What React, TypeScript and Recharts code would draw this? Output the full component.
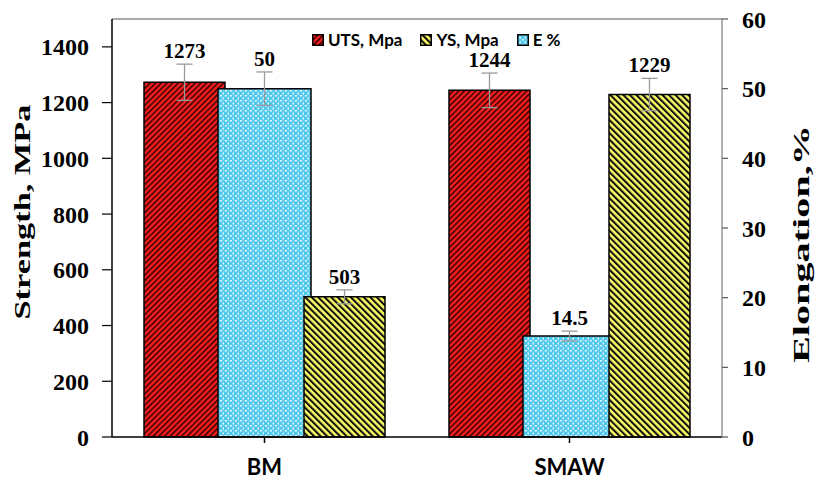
import { BarChart, Bar, XAxis, YAxis, ErrorBar, LabelList, ReferenceLine } from 'recharts';

const categories = ['BM', 'SMAW'];
const utsValues = [1273, 1244];
const utsErrors = [65, 62];
const elongationValues = [50, 14.5];
const elongationErrors = [2.4, 0.7];
const ysValues = [503, 1229];
const ysErrors = [25, 58];
const strengthTicks = [0, 200, 400, 600, 800, 1000, 1200, 1400];
const elongationTicks = [0, 10, 20, 30, 40, 50, 60];
const legendLabels = ['UTS, Mpa', 'YS, Mpa', 'E %'];
const legendFills = ['url(#utsHatch)', 'url(#ysHatch)', 'url(#elongDots)'];

const data = categories.map((name, i) => ({
  name,
  uts: utsValues[i],
  utsErr: utsErrors[i],
  elong: elongationValues[i],
  elongErr: elongationErrors[i],
  ys: ysValues[i],
  ysErr: ysErrors[i],
}));

const serif = "'Liberation Serif', 'Times New Roman', serif";
const sans = "Lato, 'Liberation Sans', sans-serif";

// value label sits just above the error bar cap
const valueLabel = (values: number[], errors: number[]) => (props: any) => {
  const box = props.viewBox && props.viewBox.width !== undefined ? props.viewBox : props;
  const { x, y, width, height } = box;
  const i = props.index;
  const v = values[i];
  const errPx = v ? (errors[i] * Math.abs(height)) / v : 0;
  return (
    <text
      x={x + width / 2}
      y={y - errPx - 6}
      textAnchor="middle"
      fontFamily={serif}
      fontWeight="bold"
      fontSize={21}
      fill="#000"
    >
      {v}
    </text>
  );
};

const axisTitle = (text: string, dx: number, dy: number, length: number) => (props: any) => {
  const { x, y, height } = props.viewBox;
  const cx = x + dx;
  const cy = y + height / 2 + dy;
  return (
    <text
      x={cx}
      y={cy}
      transform={`rotate(-90 ${cx} ${cy})`}
      textAnchor="middle"
      dominantBaseline="central"
      textLength={length}
      lengthAdjust="spacingAndGlyphs"
      fontFamily={serif}
      fontWeight="bold"
      fontSize={23}
      fill="#000"
    >
      {text}
    </text>
  );
};

const tickStyle = { fontFamily: serif, fontWeight: 'bold', fontSize: 24, fill: '#000' };

export default function App() {
  return (
    <div style={{ position: 'absolute', left: 0, top: 0, width: 822, height: 481, background: '#fff' }}>
      <BarChart
        width={822}
        height={481}
        data={data}
        margin={{ top: 19, right: 0, bottom: 0, left: 0 }}
        barGap={-7}
      >
        <defs>
          <pattern id="utsHatch" width="4" height="4" patternUnits="userSpaceOnUse" patternTransform="rotate(45)">
            <rect width="4" height="4" fill="#FF1E1E" />
            <rect width="1.5" height="4" fill="#2a0000" />
          </pattern>
          <pattern id="ysHatch" width="4.6" height="4.6" patternUnits="userSpaceOnUse" patternTransform="rotate(-45)">
            <rect width="4.6" height="4.6" fill="#FFFF66" />
            <rect width="2.1" height="4.6" fill="#111" />
          </pattern>
          <pattern id="elongDots" width="5" height="5" patternUnits="userSpaceOnUse">
            <rect width="5" height="5" fill="#4EC7EC" />
            <rect x="0" y="0" width="2" height="1.5" fill="#E2F7FF" />
            <rect x="2.5" y="2.5" width="1.5" height="2" fill="#E2F7FF" />
            <rect x="3.5" y="0.5" width="1" height="1" fill="#A8E6FA" />
          </pattern>
        </defs>
        <XAxis
          dataKey="name"
          height={44}
          tickSize={6}
          tickMargin={16}
          axisLine={{ stroke: '#000', strokeWidth: 1.5 }}
          tickLine={{ stroke: '#000', strokeWidth: 1.5 }}
          tick={{ fontFamily: sans, fontWeight: 'bold', fontSize: 22, fill: '#000' }}
        />
        <YAxis
          yAxisId="left"
          width={112}
          domain={[0, 1500]}
          ticks={strengthTicks}
          tickSize={10}
          tickMargin={13}
          axisLine={{ stroke: '#000', strokeWidth: 1.5 }}
          tickLine={{ stroke: '#000', strokeWidth: 1.2 }}
          tick={tickStyle}
          label={axisTitle('Strength, MPa', 22, -16, 215)}
        />
        <YAxis
          yAxisId="right"
          orientation="right"
          width={100}
          domain={[0, 60]}
          ticks={elongationTicks}
          tickSize={6}
          tickMargin={14}
          axisLine={{ stroke: '#7a7a7a', strokeWidth: 1.2 }}
          tickLine={{ stroke: '#555', strokeWidth: 1.2 }}
          tick={tickStyle}
          label={axisTitle('Elongation,%', 79, 16, 238)}
        />
        <ReferenceLine y={1500} yAxisId="left" stroke="#555" strokeWidth={1.2} />
        <Bar dataKey="uts" yAxisId="left" barSize={81} fill="url(#utsHatch)" stroke="#000" strokeWidth={1.5} isAnimationActive={false}>
          <ErrorBar dataKey="utsErr" width={8} stroke="#9a9a9a" strokeWidth={1.3} />
          <LabelList content={valueLabel(utsValues, utsErrors)} />
        </Bar>
        <Bar dataKey="elong" yAxisId="right" barSize={93} fill="url(#elongDots)" stroke="#000" strokeWidth={1.5} isAnimationActive={false}>
          <ErrorBar dataKey="elongErr" width={8} stroke="#9a9a9a" strokeWidth={1.3} />
          <LabelList content={valueLabel(elongationValues, elongationErrors)} />
        </Bar>
        <Bar dataKey="ys" yAxisId="left" barSize={81} fill="url(#ysHatch)" stroke="#000" strokeWidth={1.5} isAnimationActive={false}>
          <ErrorBar dataKey="ysErr" width={8} stroke="#9a9a9a" strokeWidth={1.3} />
          <LabelList content={valueLabel(ysValues, ysErrors)} />
        </Bar>
      </BarChart>
      <div
        style={{
          position: 'absolute',
          left: 312,
          top: 32,
          display: 'flex',
          alignItems: 'center',
          fontFamily: sans,
          fontWeight: 700,
          fontSize: 17,
          lineHeight: '16px',
          color: '#000',
          whiteSpace: 'nowrap',
        }}
      >
        {legendLabels.map((label, i) => (
          <div key={label} style={{ display: 'flex', alignItems: 'center', marginRight: 18 }}>
            <svg width={12} height={12} style={{ marginRight: 4 }}>
              <rect x={0.75} y={0.75} width={10.5} height={10.5} fill={legendFills[i]} stroke="#000" strokeWidth={1.5} />
            </svg>
            <span>{label}</span>
          </div>
        ))}
      </div>
    </div>
  );
}
